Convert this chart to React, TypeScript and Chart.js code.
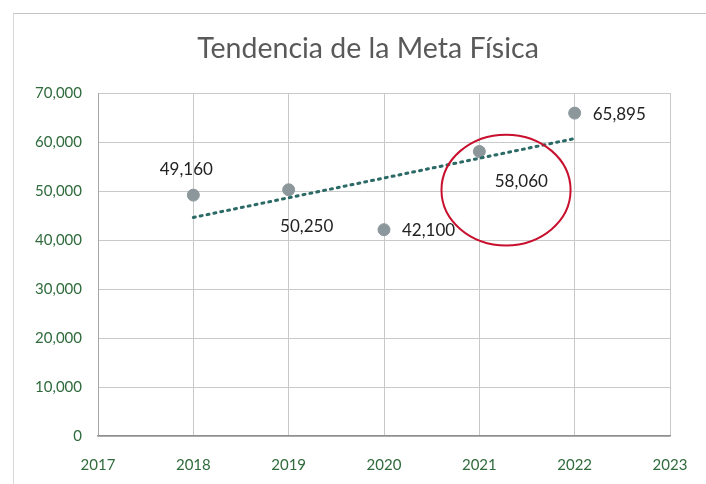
import React, { useEffect, useRef } from "react";
import { Chart, registerables } from "chart.js";

Chart.register(...registerables);

// ---- data ----
const titleText = "Tendencia de la Meta Física";
const years = [2018, 2019, 2020, 2021, 2022];
const metaFisica = [49160, 50250, 42100, 58060, 65895];
const labelPlacement = ["above", "below", "right", "belowRight", "right"];
const trendYears = [2018, 2022];
const trendValues = [44600, 60700];
const yTicks = [0, 10000, 20000, 30000, 40000, 50000, 60000, 70000];
const xRange = [2017, 2023];
// hand-drawn annotation ellipse (data coords): center year, center value, radius years, radius value
const circleCenter = [2021.28, 50200];
const circleRadius = [0.677, 11300];

const FONT = "Lato, 'Noto Sans', sans-serif";
const fmt = (v: number) => v.toLocaleString("en-US");

const titlePlugin = {
  id: "centeredTitle",
  afterDraw(chart: any) {
    const ctx = chart.ctx;
    ctx.save();
    ctx.font = `28.5px ${FONT}`;
    ctx.fillStyle = "#595959";
    ctx.textAlign = "center";
    ctx.textBaseline = "middle";
    ctx.fillText(titleText, chart.width / 2, 35);
    ctx.restore();
  },
};

const labelsPlugin = {
  id: "pointLabels",
  afterDatasetsDraw(chart: any) {
    const meta = chart.getDatasetMeta(1);
    const ctx = chart.ctx;
    ctx.save();
    ctx.font = `17px ${FONT}`;
    ctx.fillStyle = "#222222";
    ctx.textBaseline = "middle";
    meta.data.forEach((pt: any, i: number) => {
      const txt = fmt(metaFisica[i]);
      const pos = labelPlacement[i];
      let x = pt.x, y = pt.y;
      if (pos === "above") { ctx.textAlign = "center"; x -= 7; y -= 26; }
      else if (pos === "below") { ctx.textAlign = "center"; x += 18; y += 37; }
      else if (pos === "right") { ctx.textAlign = "left"; x += 18; y += 1; }
      else { ctx.textAlign = "center"; x += 42; y += 30; }
      ctx.fillText(txt, x, y);
    });
    ctx.restore();
  },
};

const ellipsePlugin = {
  id: "ellipse",
  afterDatasetsDraw(chart: any) {
    const xs = chart.scales.x, ys = chart.scales.y;
    const cx = xs.getPixelForValue(circleCenter[0]);
    const cy = ys.getPixelForValue(circleCenter[1]);
    const rx = Math.abs(xs.getPixelForValue(circleCenter[0] + circleRadius[0]) - cx);
    const ry = Math.abs(ys.getPixelForValue(circleCenter[1] + circleRadius[1]) - cy);
    const ctx = chart.ctx;
    ctx.save();
    ctx.strokeStyle = "#c8102e";
    ctx.lineWidth = 2;
    ctx.beginPath();
    ctx.ellipse(cx, cy, rx, ry, 0, 0, Math.PI * 2);
    ctx.stroke();
    ctx.restore();
  },
};

export default function App() {
  const ref = useRef<HTMLCanvasElement>(null);
  useEffect(() => {
    if (!ref.current) return;
    const chart = new Chart(ref.current, {
      type: "scatter",
      data: {
        datasets: [
          {
            type: "line",
            label: "Lineal",
            data: trendYears.map((x, i) => ({ x, y: trendValues[i] })),
            borderColor: "#2b6a66",
            borderWidth: 3,
            borderDash: [2, 5],
            borderCapStyle: "round",
            pointRadius: 0,
            fill: false,
          },
          {
            type: "scatter",
            label: "Meta Física",
            data: years.map((x, i) => ({ x, y: metaFisica[i] })),
            backgroundColor: "#8c979c",
            borderColor: "#8c979c",
            pointRadius: 6,
          },
        ],
      },
      options: {
        responsive: false,
        animation: false,
        layout: { padding: { left: 0, right: 52, top: 79, bottom: 0 } },
        plugins: {
          legend: { display: false },
          tooltip: { enabled: false },
          title: { display: false },
        },
        scales: {
          x: {
            type: "linear",
            min: xRange[0],
            max: xRange[1],
            ticks: {
              stepSize: 1,
              color: "#2f6b3c",
              font: { family: FONT, size: 15 },
              padding: 20,
              callback: (v: any) => String(v),
            },
            grid: { color: "#c9c9c9", drawTicks: false },
            border: { color: "#8f8f8f", width: 1.5 },
            afterFit: (s: any) => { s.height = 48; },
          },
          y: {
            min: yTicks[0],
            max: yTicks[yTicks.length - 1],
            afterBuildTicks: (s: any) => { s.ticks = yTicks.map((v) => ({ value: v })); },
            ticks: {
              color: "#2f6b3c",
              font: { family: FONT, size: 15 },
              padding: 16,
              callback: (v: any) => fmt(Number(v)),
            },
            grid: { color: "#c9c9c9", drawTicks: false },
            border: { color: "#a6a6a6" },
            afterFit: (s: any) => { s.width = 84; },
          },
        },
      },
      plugins: [titlePlugin, labelsPlugin, ellipsePlugin],
    } as any);
    return () => chart.destroy();
  }, []);
  return (
    <div style={{ position: "fixed", left: 0, top: 0, width: 706, height: 484, overflow: "hidden", background: "#fff" }}>
      <div style={{ position: "absolute", left: 13, top: 13, width: 720, height: 480, borderTop: "1px solid #c4c4c4", borderLeft: "1px solid #d8d8d8" }}>
        <canvas ref={ref} width={708} height={470} style={{ display: "block" }} />
      </div>
    </div>
  );
}
